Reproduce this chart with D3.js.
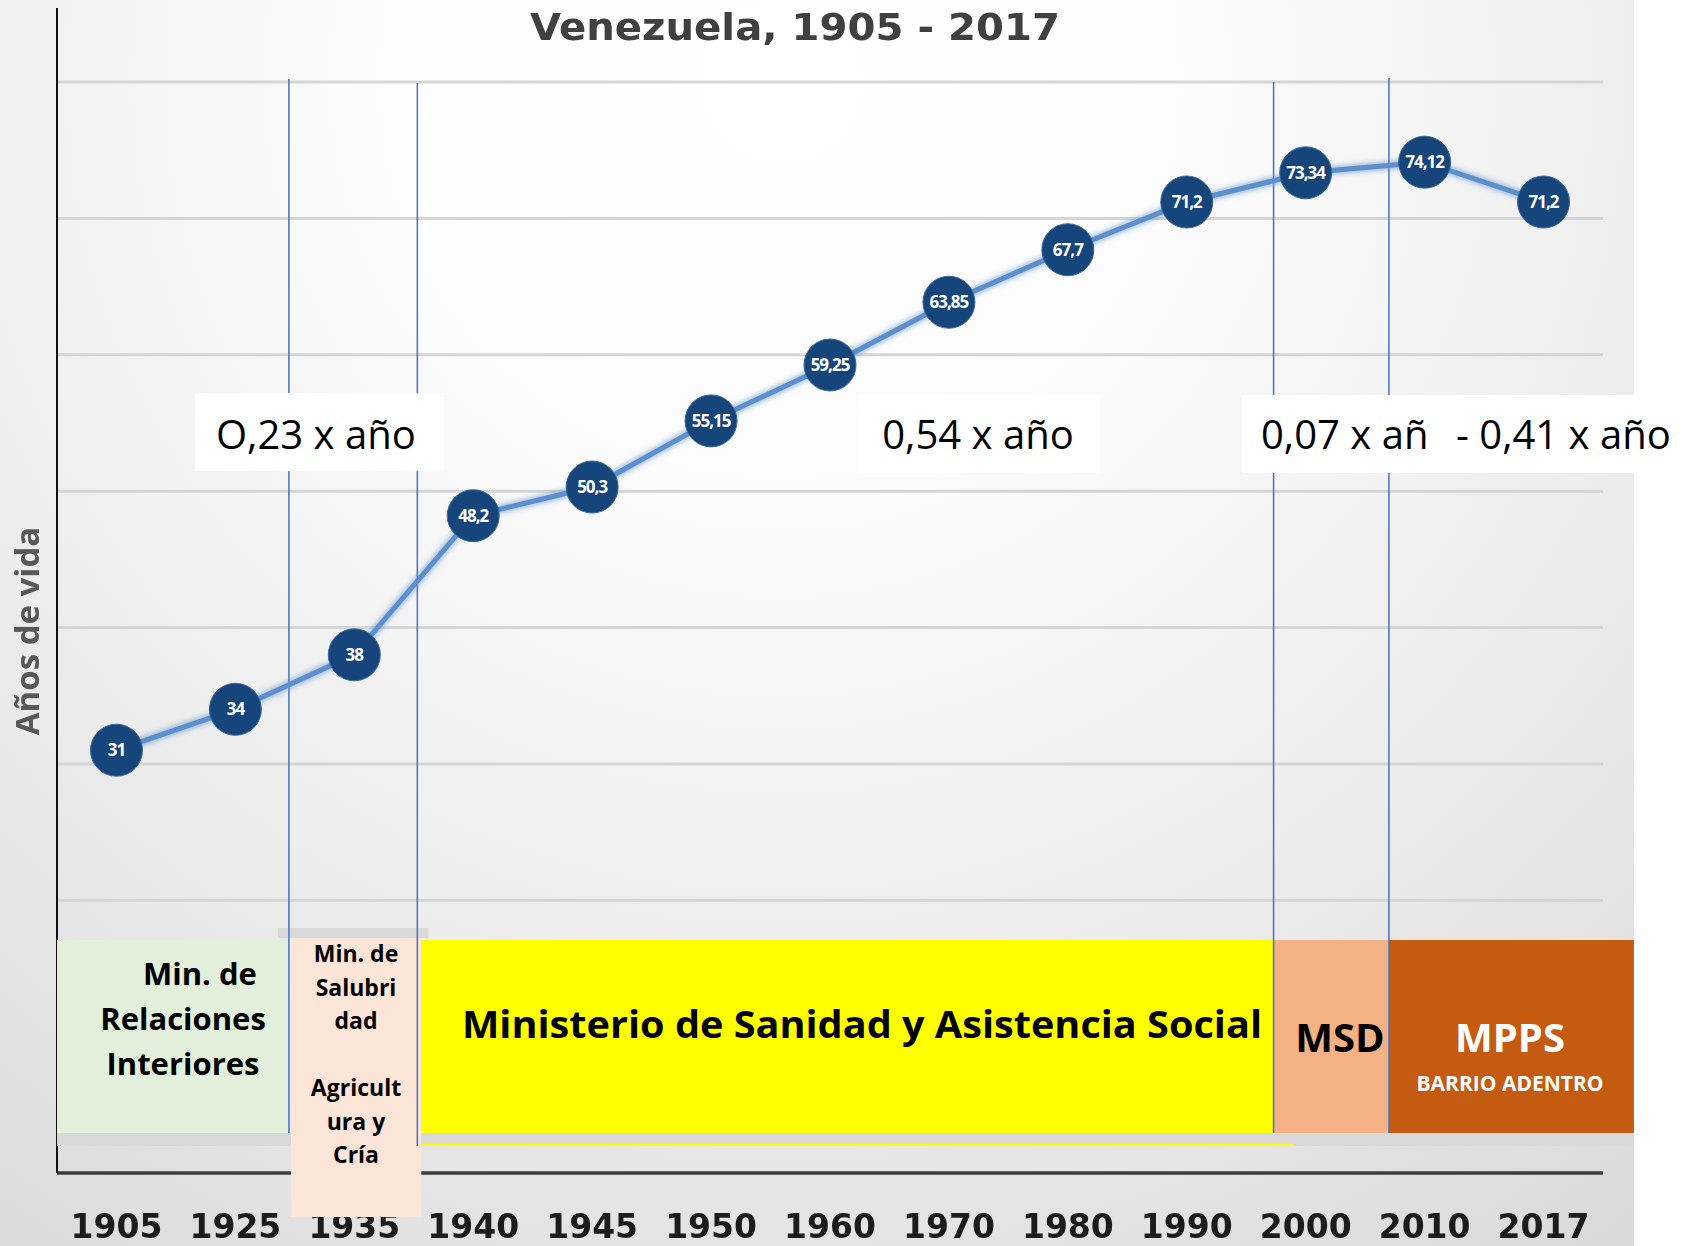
<!DOCTYPE html>
<html>
<head>
<meta charset="utf-8">
<script src="https://cdn.jsdelivr.net/npm/d3@7"></script>
<style>
  html, body { margin: 0; padding: 0; background: #ffffff; }
  svg { display: block; }
</style>
</head>
<body>
<svg id="chart" width="1690" height="1246"></svg>
<script>
// ---- data ----
const years = ["1905","1925","1935","1940","1945","1950","1960","1970","1980","1990","2000","2010","2017"];
const lifeExpectancy = [31, 34, 38, 48.2, 50.3, 55.15, 59.25, 63.85, 67.7, 71.2, 73.34, 74.12, 71.2];
const valueLabels = ["31","34","38","48,2","50,3","55,15","59,25","63,85","67,7","71,2","73,34","74,12","71,2"];
const gridValues = [20, 30, 40, 50, 60, 70, 80];
const chartTitle = "Venezuela, 1905 - 2017";
const yAxisTitle = "Años de vida";

// health ministries in charge over each period
const ministryNames = [
  ["Min. de", "Relaciones", "Interiores"],
  ["Min. de", "Salubri", "dad", "", "Agricult", "ura y", "Cría"],
  ["Ministerio de Sanidad y Asistencia Social"],
  ["MSD"],
  ["MPPS", "BARRIO ADENTRO"]
];
// yearly gain in life expectancy for each period
const slopeNotes = ["O,23 x año", "0,54 x año", "0,07 x añ", "- 0,41 x año"];

// ---- layout ----
const svg = d3.select("#chart");
const W = 1690, H = 1246;
const plotLeft = 57, plotRight = 1603, panelRight = 1634;

const x = d3.scaleBand().domain(years).range([plotLeft, plotRight]);
const y = d3.scaleLinear().domain([0, 80]).range([1173, 82]);
const cx = d => x(d) + x.bandwidth() / 2;
// position measured in category widths from the left of the axis
const at = p => plotLeft + p * x.step();

// period boundaries (category units) for the ministry strips
const periodEdges = [0, 1.95, 3.03, 10.23, 11.2, 13.26];
const bandTop = 940, bandBottom = 1133;

const defs = svg.append("defs");
const bg = defs.append("radialGradient").attr("id", "bgGrad")
  .attr("gradientUnits", "userSpaceOnUse")
  .attr("cx", 780).attr("cy", 80).attr("r", 1420);
[[0, "#ffffff"], [0.3, "#fbfbfb"], [0.6, "#eeeeee"], [0.85, "#e2e2e2"], [1, "#dadada"]]
  .forEach(([o, c]) => bg.append("stop").attr("offset", o).attr("stop-color", c));

const soft = defs.append("filter").attr("id", "soft")
  .attr("x", "-10%").attr("y", "-30%").attr("width", "120%").attr("height", "160%");
soft.append("feGaussianBlur").attr("stdDeviation", 0.7);

const glow = defs.append("filter").attr("id", "glow")
  .attr("x", "-10%").attr("y", "-10%").attr("width", "120%").attr("height", "120%");
glow.append("feGaussianBlur").attr("in", "SourceGraphic").attr("stdDeviation", 3).attr("result", "b");
const gm = glow.append("feMerge");
gm.append("feMergeNode").attr("in", "b");
gm.append("feMergeNode").attr("in", "SourceGraphic");

// background panel
svg.append("rect").attr("x", 0).attr("y", 0).attr("width", W).attr("height", H).attr("fill", "#ffffff");
svg.append("rect").attr("x", 0).attr("y", 0).attr("width", panelRight).attr("height", H).attr("fill", "url(#bgGrad)");

// title
svg.append("text")
  .attr("x", 795).attr("y", 40)
  .attr("text-anchor", "middle")
  .attr("textLength", 530).attr("lengthAdjust", "spacingAndGlyphs")
  .style("font-family", "'DejaVu Sans', sans-serif")
  .style("font-weight", "bold").style("font-size", "38px")
  .attr("fill", "#404040").attr("filter", "url(#soft)")
  .text(chartTitle);

// horizontal gridlines
svg.append("g").selectAll("line").data(gridValues).join("line")
  .attr("x1", plotLeft).attr("x2", plotRight)
  .attr("y1", d => y(d)).attr("y2", d => y(d))
  .attr("stroke", "#d5d5d5").attr("stroke-width", 3);

// y axis title
svg.append("text")
  .attr("transform", "translate(39,631) rotate(-90)")
  .attr("text-anchor", "middle")
  .style("font-family", "'Open Sans', sans-serif")
  .style("font-weight", "bold").style("font-size", "33px")
  .attr("fill", "#595959").attr("filter", "url(#soft)")
  .text(yAxisTitle);

// x axis labels
const xAxis = svg.append("g").attr("transform", `translate(0,${y(0)})`)
  .call(d3.axisBottom(x).tickSize(0));
xAxis.select(".domain").remove();
xAxis.selectAll("text")
  .attr("y", 65).attr("dy", 0)
  .style("font-family", "'DejaVu Sans', sans-serif")
  .style("font-weight", "bold").style("font-size", "33px")
  .attr("fill", "#1a1a1a").attr("filter", "url(#soft)");

// axis lines
svg.append("line").attr("x1", plotLeft).attr("x2", plotRight)
  .attr("y1", y(0)).attr("y2", y(0))
  .attr("stroke", "#3c3c3c").attr("stroke-width", 3.5);
svg.append("line").attr("x1", plotLeft).attr("x2", plotLeft)
  .attr("y1", 8).attr("y2", y(0))
  .attr("stroke", "#111111").attr("stroke-width", 2);

// ministry strips
const stripFill = ["#e2efda", "#fbe5d6", "#ffff00", "#f4b183", "#c55a11"];
const strips = svg.append("g");
strips.append("rect").attr("x", plotLeft).attr("y", bandBottom)
  .attr("width", panelRight - plotLeft).attr("height", 13).attr("fill", "#d9d9d9");
strips.append("rect").attr("x", at(periodEdges[2])).attr("y", 1144)
  .attr("width", at(periodEdges[3]) + 20 - at(periodEdges[2])).attr("height", 2).attr("fill", "#ffff00");
ministryNames.forEach((_, i) => {
  if (i === 1) return;
  strips.append("rect")
    .attr("x", at(periodEdges[i])).attr("y", bandTop)
    .attr("width", at(periodEdges[i + 1]) - at(periodEdges[i]))
    .attr("height", bandBottom - bandTop)
    .attr("fill", stripFill[i]);
});
// the 1935 column reaches down over the axis labels
strips.append("rect").attr("x", at(periodEdges[1]) - 11).attr("y", 928)
  .attr("width", at(periodEdges[2]) - at(periodEdges[1]) + 22).attr("height", 10).attr("fill", "#d9d9d9");
strips.append("rect").attr("x", at(periodEdges[1]) + 2).attr("y", 938)
  .attr("width", at(periodEdges[2]) - at(periodEdges[1]) + 2).attr("height", 1217 - 938)
  .attr("fill", stripFill[1]);

// ministry names
const nameStyle = [
  { cx: 183, y0: 985, lh: 45, size: 31, color: "#000", dx: [17, 0, 0] },
  { cx: 356, y0: 962, lh: 33.5, size: 23, color: "#000" },
  { cx: 862, y0: 1038, lh: 40, size: 38, color: "#000", len: 800 },
  { cx: 1340, y0: 1052, lh: 40, size: 40, color: "#000" },
  { cx: 1510, y0: 1052, lh: 40, size: 40, color: "#fff" }
];
ministryNames.forEach((lines, i) => {
  const s = nameStyle[i];
  lines.forEach((t, j) => {
    if (!t) return;
    const small = i === 4 && j === 1;
    const el = svg.append("text")
      .attr("x", s.cx + (s.dx ? s.dx[j] : 0))
      .attr("y", small ? 1091 : s.y0 + j * s.lh)
      .attr("text-anchor", "middle")
      .style("font-family", "'Open Sans', sans-serif")
      .style("font-weight", "bold")
      .style("font-size", (small ? 21 : s.size) + "px")
      .attr("fill", s.color)
      .text(t);
    if (s.len) el.attr("textLength", s.len).attr("lengthAdjust", "spacingAndGlyphs");
  });
});

// period change markers
const markerTops = [79, 83, 82, 78];
const markerBottoms = [1133, 1146, 1133, 1133];
svg.append("g").selectAll("line").data(periodEdges.slice(1, 5)).join("line")
  .attr("x1", d => at(d)).attr("x2", d => at(d))
  .attr("y1", (d, i) => markerTops[i]).attr("y2", (d, i) => markerBottoms[i])
  .attr("stroke", "#4472c4").attr("stroke-width", 1.5);

// life expectancy line
const line = d3.line().x((d, i) => cx(years[i])).y(d => y(d));
svg.append("path").datum(lifeExpectancy)
  .attr("d", line)
  .attr("fill", "none")
  .attr("stroke", "#5b8fcb").attr("stroke-width", 5)
  .attr("filter", "url(#glow)");

const pts = svg.append("g").selectAll("g").data(lifeExpectancy).join("g")
  .attr("transform", (d, i) => `translate(${cx(years[i])},${y(d)})`);
pts.append("circle").attr("r", 26)
  .attr("fill", "#16457c").attr("stroke", "#3a6aa0").attr("stroke-width", 1);
pts.append("text")
  .attr("text-anchor", "middle").attr("dy", "0.36em")
  .style("font-family", "'Open Sans', sans-serif")
  .style("font-weight", "bold").style("font-size", "17px")
  .style("letter-spacing", "-1px")
  .attr("fill", "#ffffff")
  .text((d, i) => valueLabels[i]);

// yearly-gain notes
const noteBoxes = [
  { x: 195, w: 249, y: 393 },
  { x: 857, w: 243, y: 395 },
  { x: 1242, w: 448, y: 395 }
];
noteBoxes.forEach(b => {
  svg.append("rect").attr("x", b.x).attr("y", b.y).attr("width", b.w).attr("height", 78).attr("fill", "#ffffff");
});
const noteText = [
  { x: 216, anchor: "start" },
  { x: 978, anchor: "middle" },
  { x: 1261, anchor: "start" },
  { x: 1456, anchor: "start" }
];
slopeNotes.forEach((t, i) => {
  svg.append("text")
    .attr("x", noteText[i].x).attr("y", 449)
    .attr("text-anchor", noteText[i].anchor)
    .style("font-family", "'Open Sans', sans-serif")
    .style("font-size", "40px")
    .attr("fill", "#000000")
    .text(t);
});
</script>
</body>
</html>
